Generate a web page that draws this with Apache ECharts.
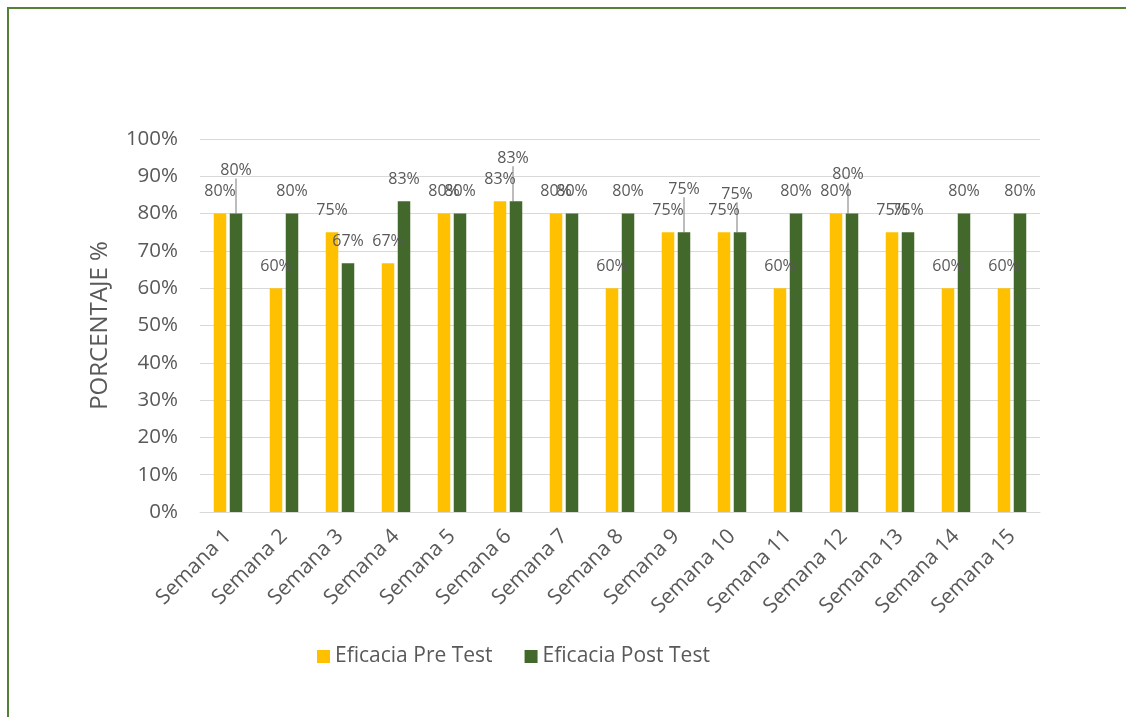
<!DOCTYPE html>
<html>
<head>
<meta charset="utf-8">
<script src="https://cdn.jsdelivr.net/npm/echarts@6/dist/echarts.min.js"></script>
<style>
    html, body { margin: 0; padding: 0; background: #ffffff; }
    #chart { width: 1126px; height: 717px; }
</style>
</head>
<body>
<div id="chart"></div>
<script>
const weeks = [
    "Semana 1", "Semana 2", "Semana 3", "Semana 4", "Semana 5",
    "Semana 6", "Semana 7", "Semana 8", "Semana 9", "Semana 10",
    "Semana 11", "Semana 12", "Semana 13", "Semana 14", "Semana 15",
];
const preTest = [0.8, 0.6, 0.75, 0.6667, 0.8, 0.8333, 0.8, 0.6, 0.75, 0.75, 0.6, 0.8, 0.75, 0.6, 0.6];
const postTest = [0.8, 0.8, 0.6667, 0.8333, 0.8, 0.8333, 0.8, 0.8, 0.75, 0.75, 0.8, 0.8, 0.75, 0.8, 0.8];
const seriesNames = ["Eficacia Pre Test", "Eficacia Post Test"];

// labels that Excel pushed up to avoid overlaps (post test series)
const movedLabels = { 0: [0, -21], 5: [-3, -21], 8: [0, -21], 9: [-3, -16], 11: [-4, -17] };

const textColor = "#595959";
const font = "'Open Sans', sans-serif";

const chart = echarts.init(document.getElementById("chart"));

const pct = (v) => Math.round(v * 100) + "%";

const barLabel = {
    show: true,
    position: "top",
    distance: 14,
    color: textColor,
    fontFamily: font,
    fontSize: 16,
    formatter: (p) => pct(p.value),
};

const option = {
    animation: false,
    textStyle: { fontFamily: font },
    graphic: [
        {
            type: "rect",
            shape: { x: 8, y: 8, width: 1140, height: 740 },
            style: { fill: "none", stroke: "#548235", lineWidth: 2 },
            silent: true,
        },
    ],
    legend: {
        left: 312,
        top: 641,
        itemWidth: 13,
        itemHeight: 13,
        itemGap: 32,
        icon: "rect",
        textStyle: { color: textColor, fontSize: 21, fontFamily: font },
        data: seriesNames,
    },
    grid: {
        left: 200,
        right: 86,
        top: 139,
        bottom: 205,
        outerBoundsMode: "none",
    },
    xAxis: {
        type: "category",
        data: weeks,
        axisLine: { lineStyle: { color: "#d9d9d9" } },
        axisTick: { show: false },
        axisLabel: {
            rotate: 45,
            margin: 21,
            color: textColor,
            fontSize: 21,
            fontFamily: font,
            interval: 0,
        },
    },
    yAxis: {
        type: "value",
        min: 0,
        max: 1,
        interval: 0.1,
        name: "PORCENTAJE %",
        nameLocation: "middle",
        nameRotate: 90,
        nameGap: 88,
        nameTextStyle: { color: textColor, fontSize: 24, fontFamily: font },
        axisLine: { show: false },
        axisTick: { show: false },
        splitLine: { lineStyle: { color: "#d9d9d9" } },
        axisLabel: {
            margin: 22,
            color: textColor,
            fontSize: 20.5,
            fontFamily: font,
            formatter: (v) => pct(v),
        },
    },
    series: [
        {
            name: seriesNames[0],
            type: "bar",
            data: preTest,
            barWidth: 12.5,
            barGap: "28%",
            itemStyle: { color: "#FFC000" },
            label: barLabel,
        },
        {
            name: seriesNames[1],
            type: "bar",
            data: postTest.map((v, i) => ({
                value: v,
                labelLine: { show: i in movedLabels },
            })),
            barWidth: 12.5,
            itemStyle: { color: "#43682B" },
            label: barLabel,
            labelLine: {
                show: false,
                lineStyle: { color: "#a6a6a6", width: 1.5 },
            },
            labelLayout: (params) => {
                const move = movedLabels[params.dataIndex];
                if (!move) {
                    return {};
                }
                return { dx: move[0], dy: move[1] };
            },
        },
    ],
};

chart.setOption(option);
</script>
</body>
</html>
